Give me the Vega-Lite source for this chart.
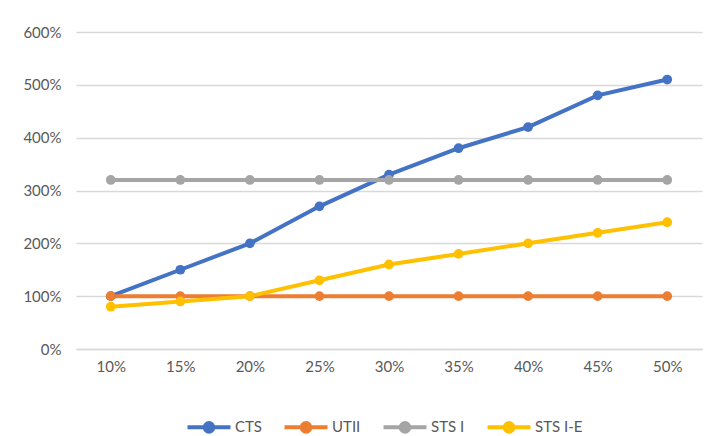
{
  "$schema": "https://vega.github.io/schema/vega-lite/v6.json",
  "autosize": "none",
  "width": 626,
  "height": 317,
  "padding": {"left": 76, "top": 32, "right": 11, "bottom": 87},
  "background": "white",
  "data": {
    "values": [
      {"x": "10%", "series": "CTS", "v": 100},
      {"x": "15%", "series": "CTS", "v": 150},
      {"x": "20%", "series": "CTS", "v": 200},
      {"x": "25%", "series": "CTS", "v": 270},
      {"x": "30%", "series": "CTS", "v": 330},
      {"x": "35%", "series": "CTS", "v": 380},
      {"x": "40%", "series": "CTS", "v": 420},
      {"x": "45%", "series": "CTS", "v": 480},
      {"x": "50%", "series": "CTS", "v": 510},
      {"x": "10%", "series": "UTII", "v": 100},
      {"x": "15%", "series": "UTII", "v": 100},
      {"x": "20%", "series": "UTII", "v": 100},
      {"x": "25%", "series": "UTII", "v": 100},
      {"x": "30%", "series": "UTII", "v": 100},
      {"x": "35%", "series": "UTII", "v": 100},
      {"x": "40%", "series": "UTII", "v": 100},
      {"x": "45%", "series": "UTII", "v": 100},
      {"x": "50%", "series": "UTII", "v": 100},
      {"x": "10%", "series": "STS I", "v": 320},
      {"x": "15%", "series": "STS I", "v": 320},
      {"x": "20%", "series": "STS I", "v": 320},
      {"x": "25%", "series": "STS I", "v": 320},
      {"x": "30%", "series": "STS I", "v": 320},
      {"x": "35%", "series": "STS I", "v": 320},
      {"x": "40%", "series": "STS I", "v": 320},
      {"x": "45%", "series": "STS I", "v": 320},
      {"x": "50%", "series": "STS I", "v": 320},
      {"x": "10%", "series": "STS I-E", "v": 80},
      {"x": "15%", "series": "STS I-E", "v": 90},
      {"x": "20%", "series": "STS I-E", "v": 100},
      {"x": "25%", "series": "STS I-E", "v": 130},
      {"x": "30%", "series": "STS I-E", "v": 160},
      {"x": "35%", "series": "STS I-E", "v": 180},
      {"x": "40%", "series": "STS I-E", "v": 200},
      {"x": "45%", "series": "STS I-E", "v": 220},
      {"x": "50%", "series": "STS I-E", "v": 240}
    ]
  },
  "mark": {"type": "line", "strokeWidth": 4, "point": {"filled": true, "size": 95, "opacity": 1}},
  "encoding": {
    "x": {
      "field": "x", "type": "ordinal", "sort": null, "title": null,
      "scale": {"paddingInner": 1, "paddingOuter": 0.5},
      "axis": {"labelAngle": 0, "ticks": false, "domain": true, "domainColor": "#D9D9D9", "domainWidth": 1.3, "labelPadding": 10, "labelColor": "#595959", "labelFont": "Lato", "labelFontSize": 15}
    },
    "y": {
      "field": "v", "type": "quantitative", "title": null,
      "scale": {"domain": [0, 600], "nice": false},
      "axis": {"values": [0, 100, 200, 300, 400, 500, 600], "labelExpr": "datum.value + '%'", "domain": false, "ticks": false, "grid": true, "gridColor": "#D9D9D9", "gridWidth": 1.3, "labelPadding": 15, "labelColor": "#595959", "labelFont": "Lato", "labelFontSize": 15}
    },
    "color": {
      "field": "series", "type": "nominal", "title": null,
      "scale": {"domain": ["CTS", "UTII", "STS I", "STS I-E"], "range": ["#4472C4", "#ED7D31", "#A5A5A5", "#FFC000"]},
      "legend": {
        "orient": "none", "legendX": 109, "legendY": 371, "direction": "horizontal",
        "symbolType": "M-1,0H1M-0.2,0A0.2,0.2 0 1,0 0.2,0A0.2,0.2 0 1,0 -0.2,0",
        "symbolSize": 1850, "symbolStrokeWidth": 4,
        "labelFont": "Lato", "labelFontSize": 15, "labelColor": "#595959", "labelOffset": 2,
        "columnPadding": 14
      }
    }
  },
  "config": {"view": {"stroke": null}}
}
